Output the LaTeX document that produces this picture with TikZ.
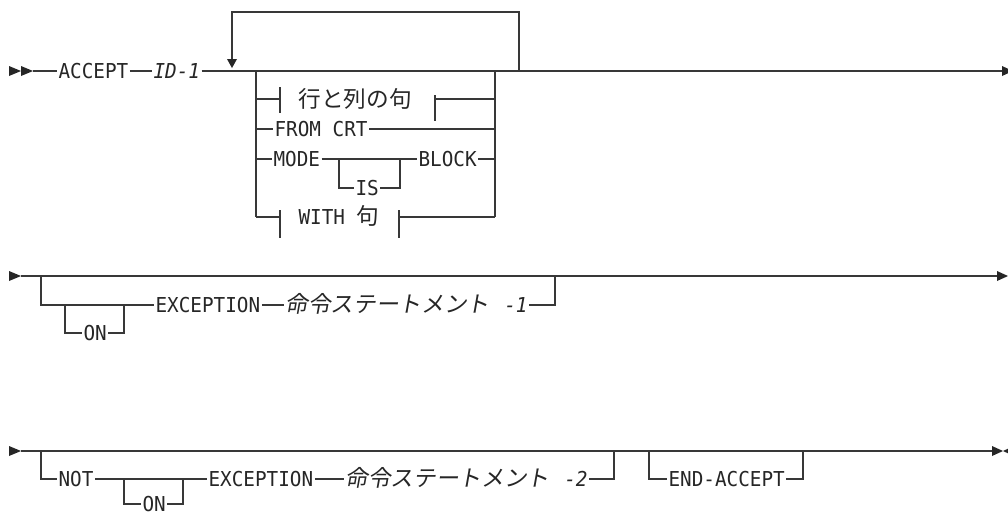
\documentclass[tikz,border=0pt]{standalone}
\usepackage{fontspec}
\newfontfamily\kwfont[FakeStretch=0.94]{DejaVu Sans Mono}
\newfontfamily\cjkfont{Noto Sans CJK JP}
\newfontfamily\cjkslant[FakeSlant=0.18]{Noto Sans CJK JP}
\begin{document}
\begin{tikzpicture}[x=0.75pt,y=-0.75pt,
  ln/.style={line width=0.9pt, draw=black!78},
  kw/.style={font={\fontsize{15.4pt}{18pt}\kwfont}, inner xsep=1pt, inner ysep=0pt, anchor=base west, text=black!85},
  kwi/.style={kw, font={\fontsize{15.4pt}{18pt}\kwfont\itshape}},
  cj/.style={kw, font={\fontsize{17pt}{20pt}\cjkfont}},
  cjs/.style={kw, font={\fontsize{17pt}{20pt}\cjkslant}},
  tip/.style={fill=black!85}]
\useasboundingbox (0,0) rectangle (1008,515);
\fill[white] (0,0) rectangle (1008,515);

% ---------------- Row 1 ----------------
\coordinate (s1) at (33,71);
\coordinate (e1) at (1002,71);
\fill[tip] (9,66) -- (21,71) -- (9,76) -- cycle;
\fill[tip] (21,66) -- (33,71) -- (21,76) -- cycle;
\node[kw] (acc) at (57,78.5) {ACCEPT};
\node[kwi] (id1) at (152,78.5) {ID-1};
\draw[ln] (s1) -- (acc.west |- s1);
\draw[ln] (acc.east |- s1) -- (id1.west |- s1);
\draw[ln] (id1.east |- s1) -- (e1);
\fill[tip] (1002,66) -- (1013,71) -- (1002,76) -- cycle;

% repeat loop
\coordinate (lpR) at (519,71);
\coordinate (lpL) at (232,60);
\draw[ln] (lpR) -- (519,12) -- (232,12) -- (lpL);
\fill[tip] (227,59) -- (237,59) -- (232,68) -- cycle;

% choice box verticals
\draw[ln] (256,71) -- (256,217);
\draw[ln] (495,71) -- (495,217);

% 行と列の句 fragment
\node[cj] (rc) at (297,107) {行と列の句};
\draw[ln] (256,99) -- (280,99);
\draw[ln] (280,87) -- (280,113);
\draw[ln] (435,95) -- (435,121);
\draw[ln] (435,99) -- (495,99);

% FROM CRT
\node[kw] (fc) at (273,136.5) {FROM CRT};
\draw[ln] (256,129) -- (fc.west |- 0,129);
\draw[ln] (fc.east |- 0,129) -- (495,129);

% MODE IS BLOCK
\node[kw] (mode) at (272,166.5) {MODE};
\node[kw] (is) at (354,195.5) {IS};
\node[kw] (blk) at (417,166.5) {BLOCK};
\draw[ln] (256,159) -- (mode.west |- 0,159);
\draw[ln] (mode.east |- 0,159) -- (blk.west |- 0,159);
\draw[ln] (blk.east |- 0,159) -- (495,159);
\draw[ln] (339,159) -- (339,188) -- (is.west |- 0,188);
\draw[ln] (is.east |- 0,188) -- (400,188) -- (400,159);

% WITH fragment
\node[kw] (with) at (297,224.5) {WITH {\fontsize{17pt}{20pt}\cjkfont 句}};
\draw[ln] (256,217) -- (280,217);
\draw[ln] (280,210) -- (280,238);
\draw[ln] (399,210) -- (399,238);
\draw[ln] (399,217) -- (495,217);

% ---------------- Row 2 ----------------
\coordinate (s2) at (21,276);
\coordinate (e2) at (997,276);
\fill[tip] (9,271) -- (21,276) -- (9,281) -- cycle;
\draw[ln] (s2) -- (e2);
\fill[tip] (997,271) -- (1008,276) -- (997,281) -- cycle;
\node[kw] (on1) at (82,340.5) {ON};
\node[kw] (ex1) at (154,312.5) {EXCEPTION};
\node[cjs] (st1) at (284,312.8) {命令ステートメント\hspace{11pt}{\fontsize{15.4pt}{18pt}\kwfont\itshape -1}};
\draw[ln] (41,276) -- (41,305) -- (ex1.west |- 0,305);
\draw[ln] (65,305) -- (65,333) -- (on1.west |- 0,333);
\draw[ln] (on1.east |- 0,333) -- (124,333) -- (124,305);
\draw[ln] (ex1.east |- 0,305) -- (st1.west |- 0,305);
\draw[ln] (st1.east |- 0,305) -- (555,305) -- (555,276);

% ---------------- Row 3 ----------------
\coordinate (s3) at (21,451);
\coordinate (e3) at (992,451);
\fill[tip] (9,446) -- (21,451) -- (9,456) -- cycle;
\draw[ln] (s3) -- (e3);
\fill[tip] (992,446) -- (1003,451) -- (992,456) -- cycle;
\fill[tip] (1014,446) -- (1003,451) -- (1014,456) -- cycle;
\node[kw] (not) at (57,486.5) {NOT};
\node[kw] (on2) at (141,511.5) {ON};
\node[kw] (ex2) at (207,486.5) {EXCEPTION};
\node[cjs] (st2) at (344,486.8) {命令ステートメント\hspace{11pt}{\fontsize{15.4pt}{18pt}\kwfont\itshape -2}};
\node[kw] (endacc) at (667,486.5) {END-ACCEPT};
\draw[ln] (41,451) -- (41,479) -- (not.west |- 0,479);
\draw[ln] (not.east |- 0,479) -- (ex2.west |- 0,479);
\draw[ln] (124,479) -- (124,504) -- (on2.west |- 0,504);
\draw[ln] (on2.east |- 0,504) -- (183,504) -- (183,479);
\draw[ln] (ex2.east |- 0,479) -- (st2.west |- 0,479);
\draw[ln] (st2.east |- 0,479) -- (614,479) -- (614,451);
\draw[ln] (649,451) -- (649,479) -- (endacc.west |- 0,479);
\draw[ln] (endacc.east |- 0,479) -- (803,479) -- (803,451);
\end{tikzpicture}
\end{document}
